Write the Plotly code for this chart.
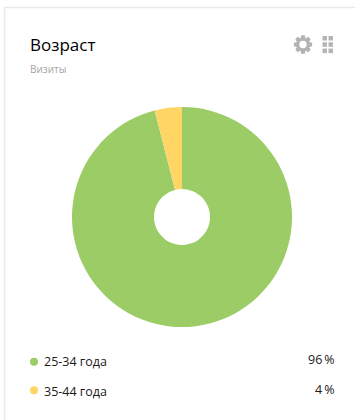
import math
import plotly.graph_objects as go

categories = ["25-34 года", "35-44 года"]
values = [96, 4]
colors = ["#9ccc65", "#ffd566"]
title = "Возраст"
subtitle = "Визиты"
FONT = "Open Sans, Noto Sans, sans-serif"
W, H = 355, 420
CX, CY, R = 182, 217, 110
DOT_Y = [361.7, 390.2]
LABEL_Y = [361.5, 391.5]
PCT_Y = [359.2, 389.2]


def gear_path(cx, cy, outer, root, teeth=8):
    pts = []
    step = 2 * math.pi / teeth
    for i in range(teeth):
        a = i * step
        for da, r in ((-0.30, root), (-0.15, outer), (0.15, outer), (0.30, root)):
            pts.append((cx + r * math.cos(a + da * step * 1.6), cy + r * math.sin(a + da * step * 1.6)))
    return "M" + "L".join(f"{x:.2f},{y:.2f}" for x, y in pts) + "Z"


fig = go.Figure(go.Pie(
    labels=categories, values=values, sort=False, direction="clockwise", rotation=0,
    hole=28 / R, marker=dict(colors=colors, line=dict(width=0)),
    textinfo="none", hoverinfo="label+percent", showlegend=False,
    domain=dict(x=[(CX - R) / W, (CX + R) / W], y=[1 - (CY + R) / H, 1 - (CY - R) / H]),
))

shapes = [
    dict(type="line", x0=4.5, x1=4.5, y0=7, y1=H, line=dict(color="#e9e9e9", width=1.5)),
    dict(type="line", x0=4, x1=W, y0=7.5, y1=7.5, line=dict(color="#e9e9e9", width=1.5)),
    dict(type="path", path=gear_path(303, 44.5, 9.3, 6.6), fillcolor="#b3b3b3", line=dict(width=0)),
    dict(type="circle", x0=299.3, x1=306.7, y0=40.8, y1=48.2, fillcolor="white", line=dict(width=0)),
]
annotations = [
    dict(x=27.5, y=44, text=title, font=dict(size=17, color="#000000")),
    dict(x=27.5, y=69, text=subtitle, font=dict(size=10, color="#a3a3a3")),
]
for col in (322.5, 328.5):
    for row in (36, 42.3, 48.6):
        shapes.append(dict(type="rect", x0=col, x1=col + 4.5, y0=row, y1=row + 4.5,
                           fillcolor="#b5b5b5", line=dict(width=0)))
for cat, val, col, dy, ly, py in zip(categories, values, colors, DOT_Y, LABEL_Y, PCT_Y):
    shapes.append(dict(type="circle", x0=30, x1=38, y0=dy - 4, y1=dy + 4,
                       fillcolor=col, line=dict(width=0)))
    annotations.append(dict(x=42, y=ly, text=cat, font=dict(size=12.5, color="#1a1a1a")))
    annotations.append(dict(x=336.5, y=py, text=f"{val}\u2009%", xanchor="right",
                            font=dict(size=12.5, color="#1a1a1a")))
for s in shapes:
    s.update(xref="x", yref="y", layer="below" if s["type"] == "line" else "above")
for a in annotations:
    a.setdefault("xanchor", "left")
    a.update(xref="x", yref="y", yanchor="middle", showarrow=False)

fig.update_layout(
    width=W, height=H, margin=dict(l=0, r=0, t=0, b=0),
    paper_bgcolor="white", plot_bgcolor="white", font=dict(family=FONT),
    xaxis=dict(range=[0, W], visible=False, fixedrange=True),
    yaxis=dict(range=[H, 0], visible=False, fixedrange=True),
    shapes=shapes, annotations=annotations,
)
fig.write_html("out.html", post_script="document.body.style.margin='0';",
               config=dict(displayModeBar=False))
